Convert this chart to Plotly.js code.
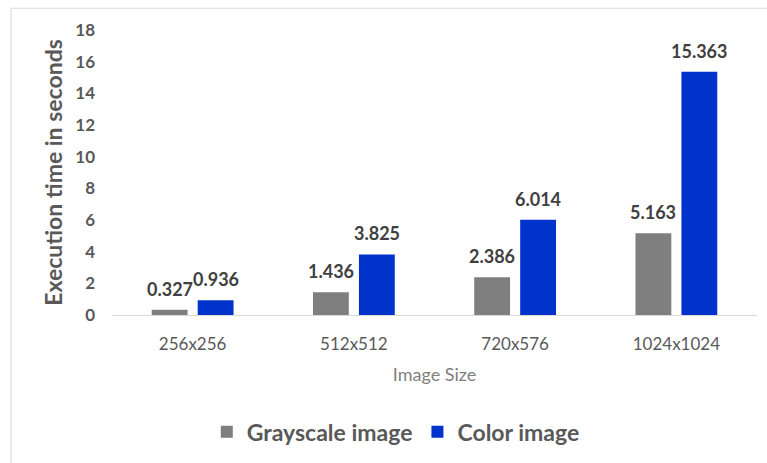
<!DOCTYPE html>
<html>
<head>
<meta charset="utf-8">
<script src="https://cdn.plot.ly/plotly-3.0.1.min.js"></script>
<style>
  html, body { margin: 0; padding: 0; background: #ffffff; }
  #chart { width: 767px; height: 463px; }
</style>
</head>
<body>
<div id="chart"></div>
<script>
// Execution time per image size, grayscale vs colour processing
const imageSizes = ['256x256', '512x512', '720x576', '1024x1024'];
const grayscaleTimes = [0.327, 1.436, 2.386, 5.163];
const colorTimes = [0.936, 3.825, 6.014, 15.363];
const yTicks = [0, 2, 4, 6, 8, 10, 12, 14, 16, 18];

const FONT = 'Lato, "Open Sans", sans-serif';
const TEXT = '#595959';

const traces = [
  {
    type: 'bar',
    name: 'Grayscale image',
    x: imageSizes,
    y: grayscaleTimes,
    marker: { color: '#7f7f7f' },
    hoverinfo: 'x+y'
  },
  {
    type: 'bar',
    name: 'Color image',
    x: imageSizes,
    y: colorTimes,
    marker: { color: '#0033cc' },
    hoverinfo: 'x+y'
  }
];

// Value labels sit above each bar; the two series are offset left/right of the category centre
const labelFont = { family: FONT, size: 18, color: '#404040', weight: 'bold' };
function valueLabels(values, xshift) {
  return values.map((v, i) => ({
    x: imageSizes[i],
    y: v,
    xref: 'x',
    yref: 'y',
    text: v.toFixed(3),
    showarrow: false,
    xanchor: 'center',
    yanchor: 'middle',
    xshift: xshift,
    yshift: 21,
    font: labelFont
  }));
}

const layout = {
  width: 767,
  height: 463,
  margin: { l: 112, r: 10, t: 30, b: 145 },
  paper_bgcolor: '#ffffff',
  plot_bgcolor: '#ffffff',
  font: { family: FONT, color: TEXT },
  barmode: 'group',
  bargap: 0.43,
  bargroupgap: 0.22,
  showlegend: true,
  legend: {
    orientation: 'h',
    x: 0.44,
    xanchor: 'center',
    y: -0.41,
    yanchor: 'middle',
    font: { family: FONT, size: 23, color: TEXT, weight: 'bold' },
    itemwidth: 30
  },
  xaxis: {
    type: 'category',
    showgrid: false,
    zeroline: false,
    showline: true,
    linecolor: '#d9d9d9',
    linewidth: 1,
    ticks: '',
    ticklabelstandoff: 14,
    tickfont: { family: FONT, size: 17, color: TEXT },
    title: {
      text: 'Image Size',
      font: { family: FONT, size: 18, color: '#7f7f7f' },
      standoff: 14
    }
  },
  yaxis: {
    range: [0, 18],
    tickvals: yTicks,
    ticktext: yTicks.map(String),
    showgrid: false,
    zeroline: false,
    showline: false,
    ticks: '',
    ticklabelstandoff: 16,
    tickfont: { family: FONT, size: 17, color: TEXT, weight: 'bold' },
    title: {
      text: 'Execution time in seconds',
      font: { family: FONT, size: 23, color: TEXT, weight: 'bold' },
      standoff: 6
    }
  },
  annotations: valueLabels(grayscaleTimes, -23).concat(valueLabels(colorTimes, 23)),
  shapes: [
    {
      type: 'rect',
      xref: 'paper', yref: 'paper',
      x0: -0.1566, x1: 1.03,
      y0: -0.53, y1: 1.0764,
      line: { color: '#d9d9d9', width: 1 },
      fillcolor: 'rgba(0,0,0,0)',
      layer: 'below'
    }
  ]
};

Plotly.newPlot('chart', traces, layout, { displayModeBar: false, staticPlot: true });
</script>
</body>
</html>
